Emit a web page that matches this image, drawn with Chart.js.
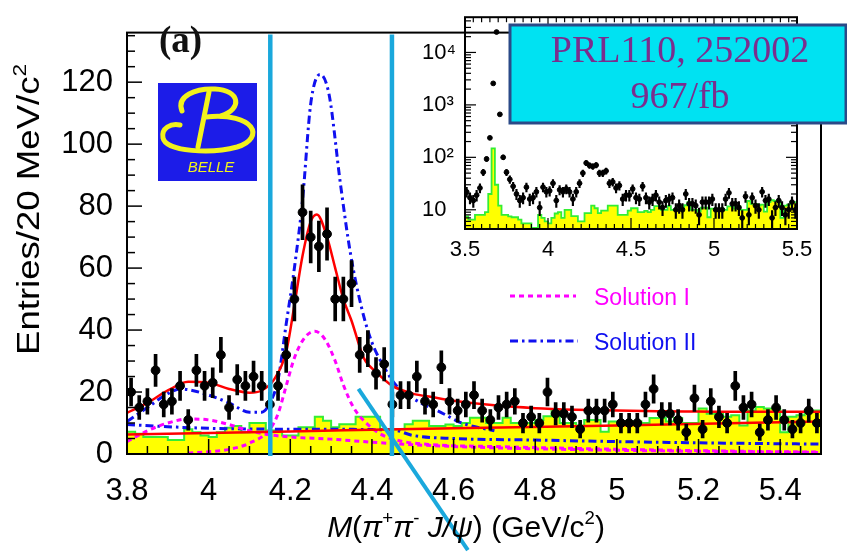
<!DOCTYPE html>
<html>
<head>
<meta charset="utf-8">
<script src="https://cdn.jsdelivr.net/npm/chart.js@4.4.1/dist/chart.umd.min.js"></script>
<style>
  html, body { margin: 0; padding: 0; background: #fff; }
  #wrap { position: relative; width: 847px; height: 555px; overflow: hidden; }
  #main { position: absolute; left: 0; top: 0; }
  #inset { position: absolute; left: 400px; top: 0; }
</style>
</head>
<body>
<div id="wrap">
  <canvas id="main" width="847" height="555"></canvas>
  <canvas id="inset" width="447" height="270"></canvas>
</div>
<script>
'use strict';

// ---- data ----
const binLow = 3.80;
const binWidth = 0.02;

// entries per 20 MeV, bins 3.80 - 5.50
const entries = [20, 15, 17, 27, 16, 17, 22, 11, 27, 22,
  23, 32, 15, 24, 22, 25, 22, 16, 22, 32,
  50, 78, 70, 67, 71, 50, 50, 55, 32, 34,
  26, 29, 16, 19, 19, 25, 17, 16, 28, 17,
  14, 16, 19, 14, 11, 15, 16, 17, 10, 12,
  10, 20, 13, 13, 12, 8, 14, 14, 14, 16,
  10, 10, 10, 16, 21, 13, 13, 11, 7, 18,
  8, 17, 12, 10, 22, 15, 16, 7, 11, 15,
  11, 8, 10, 14, 10];

// J/psi sideband histogram (yellow)
const sideband = [7.2, 7.2, 6.5, 5.5, 5.5, 5.5, 4.5, 4.5, 8, 7,
  6, 5.5, 7, 8.5, 9, 7, 10, 10, 7.6, 7.6,
  6, 6, 8.6, 8.6, 12, 10.7, 8.6, 9.6, 9.6, 12,
  12, 12, 8, 8, 8, 9.6, 10.7, 10.7, 9, 9,
  9.5, 9, 10, 11.7, 11.7, 10, 10, 11.7, 10, 10,
  10, 11, 12.2, 14, 10, 10, 9.2, 11, 11, 7.2,
  10.5, 10.5, 10.5, 10.5, 10, 11.6, 11.6, 10.5, 11.6, 10,
  10, 14.7, 13, 13, 12, 12.5, 9.2, 14, 15.2, 14.7,
  14.7, 7, 12, 12.5, 14];

// inset extends down to 3.50 (psi(2S) region)
const insetBinLow = 3.50;
const insetLowEntries = [22, 17, 15, 19, 26, 52, 93, 235, 2570, 24500, 660, 100, 52, 38, 28];
const insetLowSideband = [7.5, 7.5, 6.5, 6.5, 8, 8, 8, 9, 20, 148, 30, 12, 8, 8, 7.5];

// fit curves
const fitTotalX = [3.80, 3.85, 3.90, 3.95, 4.00, 4.05, 4.10, 4.13, 4.16, 4.19, 4.21, 4.23, 4.25, 4.265, 4.29,
  4.31, 4.33, 4.35, 4.38, 4.41, 4.45, 4.50, 4.55, 4.60, 4.70, 4.80, 4.90, 5.00, 5.10, 5.20, 5.30, 5.40, 5.50];
const fitTotalY = [13.3, 16.5, 20.5, 23.3, 23.0, 21.0, 19.8, 20.5, 24, 33, 48, 64, 75, 77.3, 70,
  60, 50, 43, 31, 26.5, 22, 19.5, 18.3, 17.2, 15.7, 14.8, 14.3, 14.0, 13.8, 13.7, 13.6, 13.6, 13.6];

const fitBgX = [3.80, 4.20, 4.60, 5.00, 5.50];
const fitBgY = [6.3, 7.3, 8.3, 9.2, 10.5];

const sol1PeakX = [3.95, 4.05, 4.10, 4.15, 4.17, 4.19, 4.21, 4.235, 4.26, 4.285, 4.31, 4.33, 4.355, 4.39, 4.42,
  4.47, 4.55, 4.70, 4.90, 5.10, 5.30, 5.50];
const sol1PeakY = [0.3, 1.5, 3.5, 8, 13, 22, 31, 37.5, 39.6, 37, 30, 22.3, 15, 9.5, 6.5,
  4.2, 3, 2.4, 1.8, 1.3, 0.9, 0.6];

const sol1LowX = [3.80, 3.85, 3.90, 3.95, 4.00, 4.05, 4.10, 4.15, 4.20, 4.30, 4.40, 4.50, 4.70, 5.00, 5.50];
const sol1LowY = [4, 7.5, 10, 11.3, 11, 9.5, 7.5, 6.2, 5.5, 4.8, 3.8, 3, 2, 1.2, 0.5];

const sol2MainX = [3.80, 3.85, 3.90, 3.93, 3.96, 4.00, 4.05, 4.10, 4.13, 4.15, 4.17, 4.19, 4.21, 4.23, 4.25,
  4.273, 4.295, 4.323, 4.347, 4.375, 4.40, 4.43, 4.46, 4.50, 4.575, 4.62, 4.70];
const sol2MainY = [10.5, 15, 19.5, 21, 20.5, 19, 16.5, 13.5, 13.5, 16.5, 24, 42, 60, 82, 113,
  122.5, 116, 87, 65, 47, 36, 28, 22, 18, 13, 10, 7.5];

const sol2LowX = [3.80, 3.90, 4.00, 4.20, 4.45, 4.50, 4.60, 4.80, 5.00, 5.20, 5.50];
const sol2LowY = [9.5, 8.8, 8.3, 8.0, 7.8, 6.0, 5.0, 4.5, 4.0, 3.6, 3.2];

const xTicks = [3.8, 4, 4.2, 4.4, 4.6, 4.8, 5, 5.2, 5.4];
const yTicks = [0, 20, 40, 60, 80, 100, 120];
const insetXTicks = [3.5, 4, 4.5, 5, 5.5];
const insetYTicks = [10, 100, 1000, 10000];
const insetYLabels = ['10', '10\u00B2', '10\u00B3', '10\u2074'];

// marked mass window + arrow (annotation in data units)
const windowX = [4.151, 4.449];
const arrowFrom = [4.367, 21];
const arrowTo = [4.635, -31];

// ---- helpers ----
const SANS = "'Liberation Sans', Arial, sans-serif";
Chart.defaults.font.family = SANS;
Chart.defaults.color = '#000';

function pairs(xs, ys) {
  return xs.map((x, i) => ({ x: x, y: ys[i] }));
}

function centers(n, lo) {
  return Array.from({ length: n }, (_, i) => +(lo + binWidth * (i + 0.5)).toFixed(3));
}

function points(vals, lo) {
  return centers(vals.length, lo).map((x, i) => ({ x: x, y: vals[i] }));
}

function errors(vals, lo) {
  return centers(vals.length, lo).map((x, i) => {
    const e = Math.sqrt(vals[i]);
    return { x: x, y: [Math.max(vals[i] - e, 0.01), vals[i] + e] };
  });
}

function histEdges(vals, lo) {
  return vals.concat(vals[vals.length - 1]).map((v, i) => ({ x: +(lo + binWidth * i).toFixed(3), y: v }));
}

function curve(data, color, dash, order) {
  return {
    type: 'line', data: data, borderColor: color, borderWidth: dash ? 3 : 2.5,
    borderDash: dash || [], pointRadius: 0, fill: false,
    cubicInterpolationMode: 'monotone', order: order
  };
}

function seg(ctx, x1, y1, x2, y2) {
  ctx.beginPath();
  ctx.moveTo(x1, y1);
  ctx.lineTo(x2, y2);
  ctx.stroke();
}

function richWidth(ctx, parts, size) {
  let w = 0;
  parts.forEach(p => {
    ctx.font = (p.it ? 'italic ' : '') + (p.sup ? size * 0.62 : size) + 'px ' + SANS;
    w += ctx.measureText(p.t).width;
  });
  return w;
}

function drawRich(ctx, parts, x, base, size) {
  ctx.textAlign = 'left';
  ctx.textBaseline = 'alphabetic';
  parts.forEach(p => {
    ctx.font = (p.it ? 'italic ' : '') + (p.sup ? size * 0.62 : size) + 'px ' + SANS;
    ctx.fillText(p.t, x, p.sup ? base - size * 0.42 : base);
    x += ctx.measureText(p.t).width;
  });
}

function drawLogo(ctx) {
  ctx.fillStyle = '#1c1ce8';
  ctx.fillRect(158, 83, 99, 98);
  ctx.strokeStyle = '#f2f21c';
  ctx.lineWidth = 5;
  ctx.lineCap = 'round';
  ctx.beginPath();
  ctx.moveTo(182, 111);
  ctx.bezierCurveTo(176, 96, 196, 88, 215, 89);
  ctx.bezierCurveTo(240, 90, 243, 109, 221, 116);
  ctx.stroke();
  ctx.beginPath();
  ctx.moveTo(206, 117);
  ctx.bezierCurveTo(255, 112, 266, 138, 237, 147);
  ctx.bezierCurveTo(212, 154, 166, 152, 163, 138);
  ctx.bezierCurveTo(161, 128, 171, 123, 180, 125);
  ctx.stroke();
  ctx.beginPath();
  ctx.moveTo(209, 92);
  ctx.lineTo(198, 147);
  ctx.stroke();
  ctx.fillStyle = '#f2f21c';
  ctx.font = 'italic 15px ' + SANS;
  ctx.textAlign = 'center';
  ctx.fillText('BELLE', 211, 172);
}

// ---- main plot ----
const mainDecor = {
  id: 'mainDecor',
  afterDraw(chart) {
    const ctx = chart.ctx;
    const a = chart.chartArea;
    const x = chart.scales.x, y = chart.scales.y;
    ctx.save();

    // inward tick marks
    ctx.strokeStyle = '#000';
    ctx.lineWidth = 1.5;
    for (let k = 0; k <= 34; k++) {
      const px = x.getPixelForValue(3.8 + 0.05 * k);
      seg(ctx, px, a.bottom, px, a.bottom - (k % 4 === 0 ? 15 : 8));
    }
    for (let k = 0; k <= 27; k++) {
      const py = y.getPixelForValue(5 * k);
      seg(ctx, a.left, py, a.left + (k % 4 === 0 ? 15 : 8), py);
    }
    ctx.lineWidth = 2;
    ctx.strokeRect(a.left, a.top, a.right - a.left, a.bottom - a.top);

    // legend
    ctx.lineWidth = 3;
    ctx.strokeStyle = '#ff00ff';
    ctx.setLineDash([5, 4]);
    seg(ctx, 510, 296, 576, 296);
    ctx.strokeStyle = '#1010f0';
    ctx.setLineDash([8, 4, 2.5, 4]);
    seg(ctx, 510, 341, 578, 341);
    ctx.setLineDash([]);
    ctx.font = '23px ' + SANS;
    ctx.textAlign = 'left';
    ctx.fillStyle = '#ff00ff';
    ctx.fillText('Solution I', 594, 305);
    ctx.fillStyle = '#1010f0';
    ctx.fillText('Solution II', 594, 350);

    // (a) and logo
    ctx.fillStyle = '#111';
    ctx.font = "bold 37px 'Liberation Serif', serif";
    ctx.fillText('(a)', 159, 52);
    drawLogo(ctx);

    // window lines and arrow
    ctx.strokeStyle = '#1aa8dc';
    ctx.lineWidth = 4.5;
    ctx.lineCap = 'butt';
    windowX.forEach(v => {
      const px = x.getPixelForValue(v);
      seg(ctx, px, a.top + 2, px, a.bottom + 2);
    });
    ctx.lineWidth = 4;
    seg(ctx, x.getPixelForValue(arrowFrom[0]), y.getPixelForValue(arrowFrom[1]),
      x.getPixelForValue(arrowTo[0]), y.getPixelForValue(arrowTo[1]));

    // axis titles
    ctx.fillStyle = '#000';
    const xt = [
      { t: 'M', it: true }, { t: '(' }, { t: '\u03C0', it: true }, { t: '+', sup: true },
      { t: '\u03C0', it: true }, { t: '-', sup: true }, { t: ' J/\u03C8', it: true },
      { t: ') (GeV/c' }, { t: '2', sup: true }, { t: ')' }
    ];
    const xs = 30;
    drawRich(ctx, xt, 466 - richWidth(ctx, xt, xs) / 2, 537, xs);

    const yt = [{ t: 'Entries/20 MeV/c' }, { t: '2', sup: true }];
    ctx.save();
    ctx.translate(39, 355);
    ctx.rotate(-Math.PI / 2);
    ctx.scale(1.18, 1);
    drawRich(ctx, yt, 0, 0, 31);
    ctx.restore();

    ctx.restore();
  }
};

new Chart(document.getElementById('main'), {
  type: 'line',
  data: {
    datasets: [
      { type: 'line', data: points(entries, binLow), showLine: false, pointRadius: 4.4,
        pointBackgroundColor: '#000', pointBorderColor: '#000', order: 0 },
      { type: 'bar', data: errors(entries, binLow), backgroundColor: '#000', barThickness: 3, order: 1 },
      curve(pairs(fitTotalX, fitTotalY), '#ff0000', null, 2),
      curve(pairs(fitBgX, fitBgY), '#ff0000', null, 2),
      curve(pairs(sol1PeakX, sol1PeakY), '#ff00ff', [5, 4], 3),
      curve(pairs(sol1LowX, sol1LowY), '#ff00ff', [5, 4], 3),
      curve(pairs(sol2MainX, sol2MainY), '#1010f0', [8, 4, 2.5, 4], 4),
      curve(pairs(sol2LowX, sol2LowY), '#1010f0', [8, 4, 2.5, 4], 4),
      { type: 'line', data: histEdges(sideband, binLow), stepped: 'after', fill: 'origin',
        backgroundColor: '#ffff00', borderColor: '#33ee33', borderWidth: 2, pointRadius: 0, order: 10 }
    ]
  },
  options: {
    responsive: false,
    animation: false,
    events: [],
    layout: { padding: { left: 0, top: 8, right: 26, bottom: 0 } },
    plugins: { legend: { display: false }, tooltip: { enabled: false } },
    scales: {
      x: {
        type: 'linear', min: 3.8, max: 5.5, offset: false,
        grid: { display: false, drawTicks: false, offset: false }, border: { display: false },
        ticks: { font: { size: 31 }, padding: 19, maxRotation: 0, autoSkip: false, callback: v => String(v) },
        afterBuildTicks: s => { s.ticks = xTicks.map(v => ({ value: v })); },
        afterFit: s => { s.height = 101; }
      },
      y: {
        type: 'linear', min: 0, max: 136,
        grid: { display: false, drawTicks: false }, border: { display: false },
        ticks: { font: { size: 31 }, padding: 14, callback: v => String(v) },
        afterBuildTicks: s => { s.ticks = yTicks.map(v => ({ value: v })); },
        afterFit: s => { s.width = 127; }
      }
    }
  },
  plugins: [mainDecor]
});

// ---- inset (log scale, wider range) ----
const insetEntries = insetLowEntries.concat(entries);
const insetSideband = insetLowSideband.concat(sideband);

const insetDecor = {
  id: 'insetDecor',
  afterDraw(chart) {
    const ctx = chart.ctx;
    const a = chart.chartArea;
    const x = chart.scales.x, y = chart.scales.y;
    ctx.save();
    ctx.strokeStyle = '#000';
    ctx.lineWidth = 1.2;
    for (let k = 0; k <= 40; k++) {
      const px = x.getPixelForValue(3.5 + 0.05 * k);
      const len = k % 10 === 0 ? 11 : 5;
      seg(ctx, px, a.bottom, px, a.bottom - len);
      seg(ctx, px, a.top, px, a.top + len);
    }
    for (let d = 1; d <= 10000; d *= 10) {
      for (let k = 1; k <= 9; k++) {
        const v = k * d;
        if (v < y.min || v > y.max) continue;
        const py = y.getPixelForValue(v);
        const len = k === 1 ? 11 : 6;
        seg(ctx, a.left, py, a.left + len, py);
        seg(ctx, a.right, py, a.right - len, py);
      }
    }
    ctx.lineWidth = 2;
    ctx.strokeRect(a.left, a.top, a.right - a.left, a.bottom - a.top);

    // publication box (page coords -> inset canvas)
    const ox = 400;
    ctx.fillStyle = '#00e2f2';
    ctx.fillRect(510 - ox, 25, 336, 98);
    ctx.strokeStyle = '#2b4a88';
    ctx.lineWidth = 3;
    ctx.strokeRect(510 - ox, 25, 336, 98);
    ctx.fillStyle = '#7a2e8e';
    ctx.font = "38px 'Liberation Serif', serif";
    ctx.textAlign = 'center';
    ctx.fillText('PRL110, 252002', 680 - ox, 62);
    ctx.fillText('967/fb', 680 - ox, 108);
    ctx.restore();
  }
};

new Chart(document.getElementById('inset'), {
  type: 'line',
  data: {
    datasets: [
      { type: 'line', data: points(insetEntries, insetBinLow), showLine: false, pointRadius: 2.4,
        pointBackgroundColor: '#000', pointBorderColor: '#000', order: 0 },
      { type: 'bar', data: errors(insetEntries, insetBinLow), backgroundColor: '#000', barThickness: 1.5, order: 1 },
      { type: 'line', data: histEdges(insetSideband, insetBinLow), stepped: 'after', fill: 'start',
        backgroundColor: '#ffff00', borderColor: '#33ee33', borderWidth: 1.8, pointRadius: 0, order: 10 }
    ]
  },
  options: {
    responsive: false,
    animation: false,
    events: [],
    layout: { padding: { left: 22, top: 8, right: 50, bottom: 0 } },
    plugins: { legend: { display: false }, tooltip: { enabled: false } },
    scales: {
      x: {
        type: 'linear', min: 3.5, max: 5.5, offset: false,
        grid: { display: false, drawTicks: false, offset: false }, border: { display: false },
        ticks: { font: { size: 22 }, padding: 8, maxRotation: 0, autoSkip: false, callback: v => String(v) },
        afterBuildTicks: s => { s.ticks = insetXTicks.map(v => ({ value: v })); },
        afterFit: s => { s.height = 41; }
      },
      y: {
        type: 'logarithmic', min: 4.3, max: 47000,
        grid: { display: false, drawTicks: false }, border: { display: false },
        ticks: { font: { size: 22 }, padding: 4, crossAlign: 'far',
          callback: v => insetYLabels[insetYTicks.indexOf(v)] },
        afterBuildTicks: s => { s.ticks = insetYTicks.map(v => ({ value: v })); },
        afterFit: s => { s.width = 43; }
      }
    }
  },
  plugins: [insetDecor]
});
</script>
</body>
</html>
